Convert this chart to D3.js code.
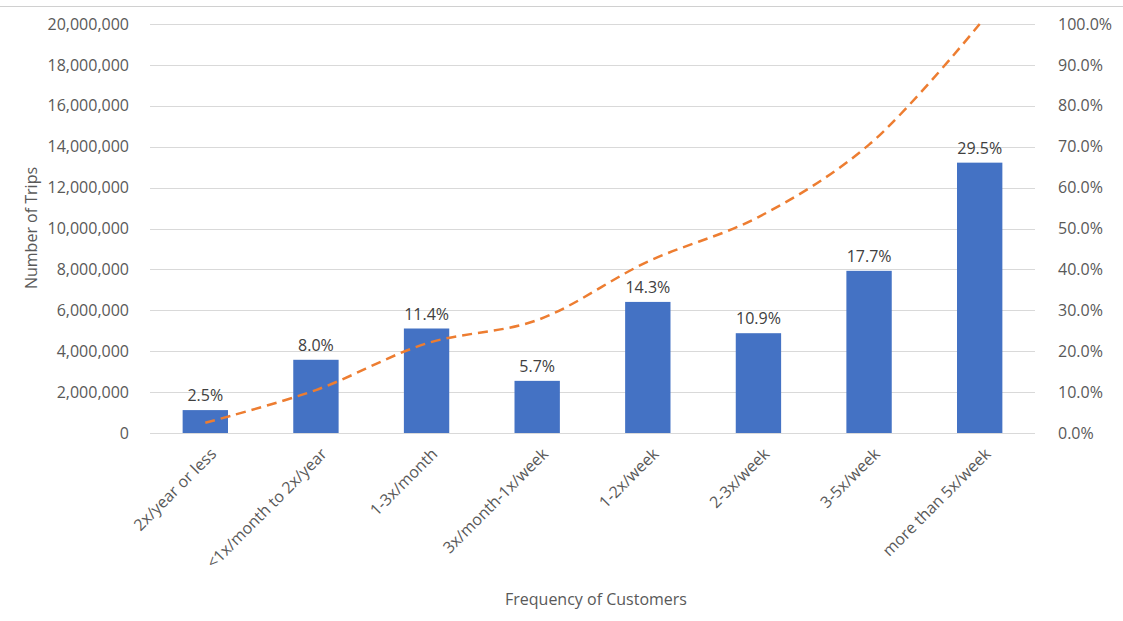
<!DOCTYPE html>
<html>
<head>
<meta charset="utf-8">
<script src="https://cdn.jsdelivr.net/npm/d3@7"></script>
<style>
  body { margin: 0; background: #fff; }
  svg { display: block; font-family: "Open Sans", sans-serif; }
</style>
</head>
<body>
<div id="chart"></div>
<script>
// categories along the bottom
const categories = ["2x/year or less", "<1x/month to 2x/year", "1-3x/month", "3x/month-1x/week",
  "1-2x/week", "2-3x/week", "3-5x/week", "more than 5x/week"];
// number of trips per category
const trips = [1120000, 3580000, 5110000, 2550000, 6410000, 4880000, 7930000, 13220000];
// share labels printed above bars
const shareLabels = ["2.5%", "8.0%", "11.4%", "5.7%", "14.3%", "10.9%", "17.7%", "29.5%"];
// cumulative share (dashed line), percent
const cumulative = [2.5, 10.5, 21.9, 27.6, 41.9, 52.8, 70.5, 100];
const leftTicks = [0, 2e6, 4e6, 6e6, 8e6, 10e6, 12e6, 14e6, 16e6, 18e6, 20e6];
const rightTicks = [0, 10, 20, 30, 40, 50, 60, 70, 80, 90, 100];

const width = 1123, height = 621,
  margin = ({top: 24, right: 88, bottom: 188, left: 150});
const fs = 16;

const svg = d3.select("#chart").append("svg")
  .attr("width", width).attr("height", height)
  .attr("viewBox", [0, 0, width, height]);

// faint frame line across the top
svg.append("line")
  .attr("x1", 0).attr("x2", width).attr("y1", 6.5).attr("y2", 6.5)
  .attr("stroke", "#d0d0d0");

const x = d3.scaleBand()
  .domain(categories)
  .range([margin.left, width - margin.right])
  .paddingInner(0.59).paddingOuter(0.295);

const band = d3.scaleBand()
  .domain(categories)
  .range([margin.left, width - margin.right]);

const y = d3.scaleLinear()
  .domain([0, 20e6])
  .range([height - margin.bottom, margin.top]);

const y2 = d3.scaleLinear()
  .domain([0, 100])
  .range([height - margin.bottom, margin.top]);

// gridlines
svg.append("g")
  .selectAll("line")
  .data(leftTicks)
  .join("line")
    .attr("x1", margin.left).attr("x2", width - margin.right)
    .attr("y1", d => Math.round(y(d)) + 0.5).attr("y2", d => Math.round(y(d)) + 0.5)
    .attr("stroke", "#d9d9d9");

// left axis
svg.append("g")
  .attr("transform", `translate(${margin.left - 18},0)`)
  .call(d3.axisLeft(y).tickValues(leftTicks).tickSize(0).tickFormat(d3.format(",")))
  .call(g => g.select(".domain").remove())
  .call(g => g.selectAll("text").attr("fill", "#595959").attr("font-size", fs)
    .attr("font-family", "Open Sans"));

// right axis
svg.append("g")
  .attr("transform", `translate(${width - margin.right + 23},0)`)
  .call(d3.axisRight(y2).tickValues(rightTicks).tickSize(0).tickFormat(d => d3.format(".1f")(d) + "%"))
  .call(g => g.select(".domain").remove())
  .call(g => g.selectAll("text").attr("fill", "#595959").attr("font-size", fs)
    .attr("font-family", "Open Sans").attr("x", 0));

// bars
svg.append("g")
  .selectAll("rect")
  .data(trips)
  .join("rect")
    .attr("x", (d, i) => x(categories[i]))
    .attr("y", d => y(d))
    .attr("width", x.bandwidth())
    .attr("height", d => y(0) - y(d))
    .attr("fill", "#4472C4");

// bar labels
svg.append("g")
  .selectAll("text")
  .data(trips)
  .join("text")
    .attr("x", (d, i) => band(categories[i]) + band.bandwidth() / 2)
    .attr("y", d => y(d) - 9)
    .attr("text-anchor", "middle")
    .attr("font-size", fs)
    .attr("fill", "#404040")
    .text((d, i) => shareLabels[i]);

// cumulative line
const line = d3.line()
  .x((d, i) => band(categories[i]) + band.bandwidth() / 2)
  .y(d => y2(d))
  .curve(d3.curveCatmullRom.alpha(0.5));

svg.append("path")
  .datum(cumulative)
  .attr("d", line)
  .attr("fill", "none")
  .attr("stroke", "#ED7D31")
  .attr("stroke-width", 2.5)
  .attr("stroke-dasharray", "10,6");

// category labels
svg.append("g")
  .selectAll("text")
  .data(categories)
  .join("text")
    .attr("transform", d => `translate(${band(d) + band.bandwidth() / 2 + 8},${height - margin.bottom + 18}) rotate(-45)`)
    .attr("text-anchor", "end")
    .attr("dy", "0.35em")
    .attr("font-size", fs)
    .attr("fill", "#595959")
    .text(d => d);

// axis titles
svg.append("text")
  .attr("transform", `translate(37,228) rotate(-90)`)
  .attr("text-anchor", "middle")
  .attr("font-size", fs)
  .attr("fill", "#595959")
  .text("Number of Trips");

svg.append("text")
  .attr("x", 596).attr("y", 605)
  .attr("text-anchor", "middle")
  .attr("font-size", fs)
  .attr("fill", "#595959")
  .text("Frequency of Customers");
</script>
</body>
</html>
